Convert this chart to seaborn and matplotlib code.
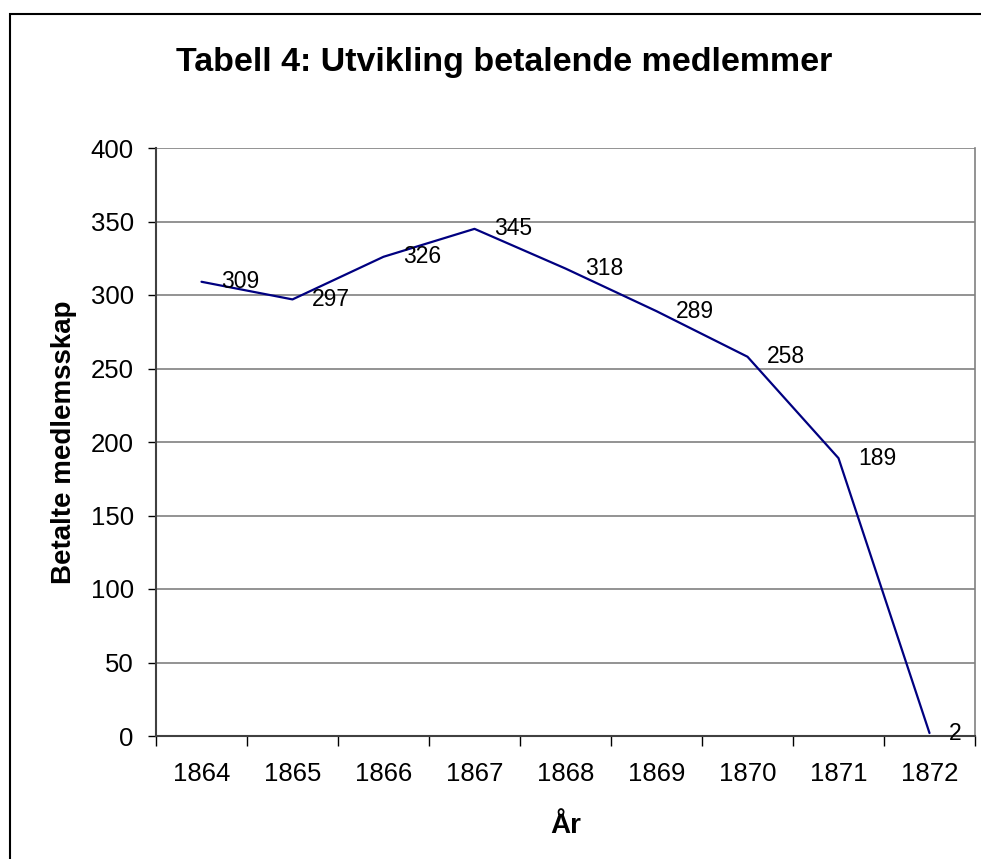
import matplotlib
matplotlib.use("Agg")
import matplotlib.pyplot as plt
import seaborn as sns
from matplotlib.patches import Rectangle

years = ['1864', '1865', '1866', '1867', '1868', '1869', '1870', '1871', '1872']
members = [309, 297, 326, 345, 318, 289, 258, 189, 2]
y_ticks = [0, 50, 100, 150, 200, 250, 300, 350, 400]

sns.set_theme(style="white")
plt.rcParams['font.family'] = ['Liberation Sans', 'DejaVu Sans']
plt.rcParams['text.color'] = 'black'

W, H = 981, 859
fig = plt.figure(figsize=(W / 100, H / 100), dpi=100)

# outer chart frame (Excel style)
fig.patches.append(Rectangle((10 / W, -0.1), 1.2, 1.1 - 14 / H, transform=fig.transFigure,
                             fill=False, edgecolor='black', linewidth=1.5))

ax = fig.add_axes([156 / W, (H - 736) / H, 819 / W, 588 / H])
pos = list(range(len(years)))
sns.lineplot(x=pos, y=members, color='#000080', linewidth=1.6, ax=ax)

for x, v in zip(pos, members):
    ax.annotate(str(v), (x, v), xytext=(14, 0), textcoords='offset points',
                ha='left', va='center', fontsize=16.5, color='black')

ax.set_xlim(-0.5, len(years) - 0.5)
ax.set_ylim(0, 400)
ax.set_yticks(y_ticks)
ax.set_yticklabels([str(t) for t in y_ticks], fontsize=18.5)
ax.set_xticks([p - 0.5 for p in pos] + [len(years) - 0.5])
ax.set_xticklabels([])
ax.set_xticks(pos, minor=True)
ax.set_xticklabels(years, minor=True, fontsize=18.5)
ax.tick_params(axis='x', which='major', length=7, width=1, color='#404040', direction='out')
ax.tick_params(axis='x', which='minor', length=0, pad=19)
ax.tick_params(axis='y', length=6, width=1, color='#404040', direction='out', pad=10)
ax.tick_params(colors='black', labelcolor='black')
ax.tick_params(axis='x', which='minor', colors='black', labelcolor='black')
ax.xaxis.set_tick_params(which='both', bottom=True)
ax.yaxis.set_tick_params(left=True)

ax.grid(axis='y', color='#808080', linewidth=1.2)
ax.set_axisbelow(True)
for side in ['left', 'bottom']:
    ax.spines[side].set_color('#404040')
    ax.spines[side].set_linewidth(1.5)
ax.spines['right'].set_color('#808080')
ax.spines['right'].set_linewidth(1.2)
ax.spines['top'].set_visible(False)

ax.set_xlabel('År', fontsize=20, fontweight='bold', labelpad=19, color='black')
ax.set_ylabel('Betalte medlemsskap', fontsize=20, fontweight='bold', labelpad=10, color='black')
fig.text(504 / W, 1 - 63 / H, 'Tabell 4: Utvikling betalende medlemmer',
         ha='center', va='center', fontsize=24.5, fontweight='bold', color='black')

fig.savefig('out.png', dpi=100)
